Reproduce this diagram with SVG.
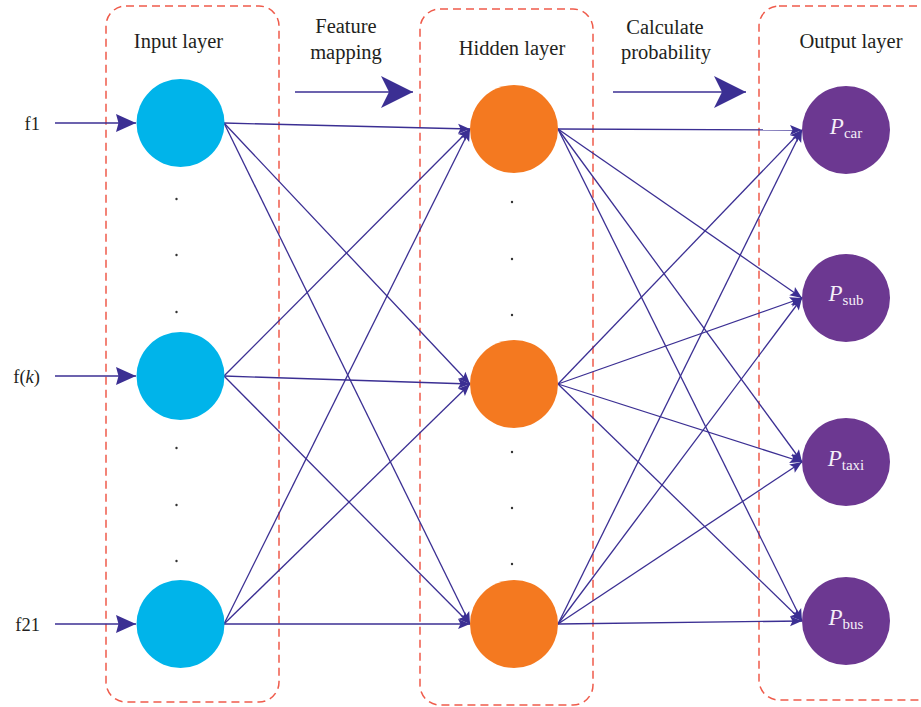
<svg xmlns="http://www.w3.org/2000/svg" width="921" height="707" viewBox="0 0 921 707">
<style>
.box{fill:none;stroke:#ef5b4b;stroke-width:1.5;stroke-dasharray:8 5}
.lbl{font-family:"Liberation Serif",serif;font-size:20.5px;fill:#231f20;text-anchor:middle}
.f{font-family:"Liberation Serif",serif;font-size:18.5px;fill:#231f20;text-anchor:end}
.c{stroke:#3b2f93;stroke-width:1.3;fill:none;marker-end:url(#sm)}
.in{stroke:#3b2f93;stroke-width:1.5;fill:none;marker-end:url(#ia)}
.big{stroke:#3b2f93;stroke-width:1.5;fill:none;marker-end:url(#ba)}
.inp{fill:#00b4ea}
.hid{fill:#f47920}
.out{fill:#6c3891}
.pt{font-family:"Liberation Serif",serif;font-size:23px;fill:#f4eff8;text-anchor:middle}
.dot{fill:#333}
</style>
<defs>
<marker id="sm" markerUnits="userSpaceOnUse" markerWidth="13" markerHeight="11" refX="12" refY="5" orient="auto" overflow="visible">
<path d="M0,0 L12,5 L0,10 L2.5,5 z" fill="#3b2f93"/>
</marker>
<marker id="ia" markerUnits="userSpaceOnUse" markerWidth="21" markerHeight="19" refX="20" refY="9" orient="auto" overflow="visible">
<path d="M0,0 L20,9 L0,18 L2.5,9 z" fill="#3b2f93"/>
</marker>
<marker id="ba" markerUnits="userSpaceOnUse" markerWidth="33" markerHeight="33" refX="32" refY="16" orient="auto" overflow="visible">
<path d="M0,0 L32,16 L0,32 L8,16 z" fill="#3b2f93"/>
</marker>
</defs>
<rect width="921" height="707" fill="#fff"/>
<g id="layer-boxes">
<rect class="box" x="106" y="6" width="173" height="696" rx="20"/>
<rect class="box" x="420" y="9" width="173" height="696" rx="20"/>
<rect class="box" x="759" y="6" width="200" height="694" rx="20"/>
</g>
<g id="labels">
<text class="lbl" x="178.5" y="48">Input layer</text>
<text class="lbl" x="346" y="33">Feature</text>
<text class="lbl" x="346" y="59">mapping</text>
<text class="lbl" x="512" y="55">Hidden layer</text>
<text class="lbl" x="665" y="34">Calculate</text>
<text class="lbl" x="666" y="59">probability</text>
<text class="lbl" x="851" y="48">Output layer</text>
<text class="f" x="40" y="130">f1</text>
<text class="f" x="40" y="383">f(<tspan font-style="italic">k</tspan>)</text>
<text class="f" x="40" y="631">f21</text>
</g>
<g id="connectors">
<line class="big" x1="295" y1="92" x2="413" y2="92"/>
<line class="big" x1="613" y1="92" x2="746" y2="92"/>
<line class="in" x1="55" y1="123" x2="136" y2="123"/>
<line class="in" x1="55" y1="376" x2="136" y2="376"/>
<line class="in" x1="55" y1="624" x2="136" y2="624"/>
<line class="c" x1="224" y1="123" x2="470" y2="129"/>
<line class="c" x1="224" y1="123" x2="470" y2="384"/>
<line class="c" x1="224" y1="123" x2="470" y2="624"/>
<line class="c" x1="224" y1="376" x2="470" y2="129"/>
<line class="c" x1="224" y1="376" x2="470" y2="384"/>
<line class="c" x1="224" y1="376" x2="470" y2="624"/>
<line class="c" x1="224" y1="624" x2="470" y2="129"/>
<line class="c" x1="224" y1="624" x2="470" y2="384"/>
<line class="c" x1="224" y1="624" x2="470" y2="624"/>
<line class="c" x1="558" y1="129" x2="802" y2="130"/>
<line class="c" x1="558" y1="129" x2="802" y2="298"/>
<line class="c" x1="558" y1="129" x2="802" y2="462"/>
<line class="c" x1="558" y1="129" x2="802" y2="621"/>
<line class="c" x1="558" y1="384" x2="802" y2="130"/>
<line class="c" x1="558" y1="384" x2="802" y2="298"/>
<line class="c" x1="558" y1="384" x2="802" y2="462"/>
<line class="c" x1="558" y1="384" x2="802" y2="621"/>
<line class="c" x1="558" y1="624" x2="802" y2="130"/>
<line class="c" x1="558" y1="624" x2="802" y2="298"/>
<line class="c" x1="558" y1="624" x2="802" y2="462"/>
<line class="c" x1="558" y1="624" x2="802" y2="621"/>
</g>
<g id="dots">
<circle class="dot" cx="176.5" cy="199" r="1.2"/>
<circle class="dot" cx="176.5" cy="255" r="1.2"/>
<circle class="dot" cx="176.5" cy="312" r="1.2"/>
<circle class="dot" cx="176.5" cy="448" r="1.2"/>
<circle class="dot" cx="176.5" cy="505" r="1.2"/>
<circle class="dot" cx="176.5" cy="561" r="1.2"/>
<circle class="dot" cx="512" cy="202" r="1.2"/>
<circle class="dot" cx="512" cy="259" r="1.2"/>
<circle class="dot" cx="512" cy="315" r="1.2"/>
<circle class="dot" cx="512" cy="452" r="1.2"/>
<circle class="dot" cx="512" cy="508" r="1.2"/>
<circle class="dot" cx="512" cy="564" r="1.2"/>
</g>
<g id="input-1"><circle class="inp" cx="180.5" cy="123" r="44"/></g>
<g id="input-k"><circle class="inp" cx="180.5" cy="376" r="44"/></g>
<g id="input-21"><circle class="inp" cx="180.5" cy="624" r="44"/></g>
<g id="hidden-1"><circle class="hid" cx="514" cy="129" r="44"/></g>
<g id="hidden-2"><circle class="hid" cx="514" cy="384" r="44"/></g>
<g id="hidden-3"><circle class="hid" cx="514" cy="624" r="44"/></g>
<g id="out-car"><circle class="out" cx="846" cy="130" r="44"/>
<text class="pt" x="846" y="134"><tspan font-style="italic">P</tspan><tspan font-size="15" dy="4">car</tspan></text></g>
<g id="out-sub"><circle class="out" cx="846" cy="298" r="44"/>
<text class="pt" x="846" y="301"><tspan font-style="italic">P</tspan><tspan font-size="15" dy="4">sub</tspan></text></g>
<g id="out-taxi"><circle class="out" cx="846" cy="462" r="44"/>
<text class="pt" x="846" y="466"><tspan font-style="italic">P</tspan><tspan font-size="15" dy="4">taxi</tspan></text></g>
<g id="out-bus"><circle class="out" cx="846" cy="621" r="44"/>
<text class="pt" x="846" y="625"><tspan font-style="italic">P</tspan><tspan font-size="15" dy="4">bus</tspan></text></g>
</svg>
